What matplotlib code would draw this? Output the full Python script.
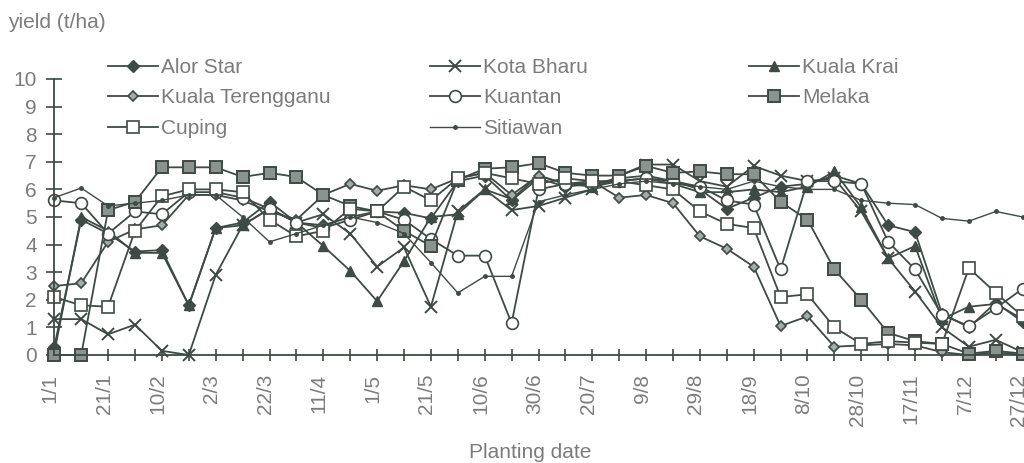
import matplotlib
matplotlib.use("Agg")
import matplotlib.pyplot as plt
import matplotlib.transforms as mtransforms

plt.rcParams["font.family"] = ["Liberation Sans", "DejaVu Sans"]

# planting dates, every 10 days
dates = ["1/1", "11/1", "21/1", "31/1", "10/2", "20/2", "2/3", "12/3", "22/3", "1/4",
         "11/4", "21/4", "1/5", "11/5", "21/5", "31/5", "10/6", "20/6", "30/6", "10/7",
         "20/7", "30/7", "9/8", "19/8", "29/8", "8/9", "18/9", "28/9", "8/10", "18/10",
         "28/10", "7/11", "17/11", "27/11", "7/12", "17/12", "27/12"]

alor_star = [0.3, 4.9, 4.4, 3.75, 3.8, 1.8, 4.6, 4.8, 5.55, 4.8, 4.7, 5.0, 5.2, 5.15, 4.95,
             6.3, 6.5, 5.6, 6.4, 6.1, 6.2, 6.4, 6.5, 6.3, 6.0, 5.3, 5.7, 6.1, 6.2, 6.5,
             6.2, 4.7, 4.45, 1.5, 1.0, 1.9, 1.2]
kota_bharu = [1.3, 1.3, 0.75, 1.1, 0.15, 0.0, 2.9, 4.7, 5.3, 4.8, 5.1, 4.4, 3.2, 3.9, 1.75,
              5.2, 6.0, 5.25, 5.4, 5.7, 6.0, 6.5, 6.9, 6.9, 6.3, 6.1, 6.85, 6.5, 6.3, 6.4,
              5.2, 3.5, 2.3, 1.0, 0.3, 0.55, 0.1]
kuala_krai = [0.1, 5.0, 4.5, 3.7, 3.7, 1.8, 4.6, 4.7, 5.3, 4.8, 3.95, 3.05, 1.95, 3.4, 5.0,
              5.1, 6.0, 5.65, 6.5, 6.2, 6.1, 6.3, 6.4, 6.2, 5.9, 5.9, 6.0, 5.9, 6.1, 6.65,
              5.35, 3.5, 3.95, 1.3, 1.75, 1.85, 1.3]
kuala_terengganu = [2.5, 2.6, 4.1, 4.55, 4.7, 5.8, 5.8, 5.6, 5.2, 4.9, 5.8, 6.2, 5.95, 6.15, 6.0,
                    6.4, 6.6, 5.8, 6.5, 6.2, 6.3, 5.7, 5.8, 5.5, 4.3, 3.85, 3.2, 1.05, 1.4, 0.3,
                    0.35, 0.4, 0.35, 0.1, 0.0, 0.1, 0.0]
kuantan = [5.6, 5.5, 4.4, 5.2, 5.1, 5.9, 5.9, 5.7, 5.3, 4.8, 4.6, 4.9, 5.2, 4.9, 4.2,
           3.6, 3.6, 1.15, 6.0, 6.2, 6.2, 6.3, 6.4, 6.3, 6.1, 5.6, 5.45, 3.1, 6.3, 6.3,
           6.2, 4.1, 3.1, 1.45, 1.05, 1.7, 2.4]
melaka = [0.0, 0.0, 5.25, 5.55, 6.8, 6.8, 6.8, 6.45, 6.6, 6.45, 5.8, 5.4, 5.2, 4.5, 3.95,
          6.35, 6.75, 6.8, 6.95, 6.6, 6.5, 6.5, 6.85, 6.6, 6.65, 6.55, 6.55, 5.55, 4.9, 3.1,
          2.0, 0.8, 0.5, 0.4, 0.05, 0.15, 0.05]
cuping = [2.1, 1.8, 1.75, 4.5, 5.75, 6.0, 6.0, 5.9, 4.9, 4.3, 4.5, 5.3, 5.2, 6.1, 5.6,
          6.4, 6.6, 6.4, 6.2, 6.4, 6.3, 6.3, 6.15, 6.0, 5.2, 4.75, 4.6, 2.1, 2.2, 1.0,
          0.4, 0.5, 0.45, 0.4, 3.15, 2.25, 1.4]
sitiawan = [5.7, 6.05, 5.4, 5.5, 5.6, 5.8, 5.8, 5.0, 4.1, 4.4, 4.7, 5.0, 4.8, 4.4, 3.35,
            2.25, 2.85, 2.85, 5.55, 5.8, 6.0, 6.2, 6.3, 6.2, 6.1, 6.0, 6.3, 6.1, 6.0, 6.0,
            5.6, 5.5, 5.45, 4.95, 4.85, 5.2, 5.0]

INK = "#3e4a44"
TXT = "#7c7c7c"
FS = 15

fig = plt.figure(figsize=(10.24, 4.63), dpi=100)
ax = fig.add_axes([54.3 / 1024, 108 / 463, 1 - 54.3 / 1024, 276 / 463])

x = list(range(len(dates)))
styles = {
    "Alor Star": dict(marker="D", ms=6, mfc=INK, mec=INK),
    "Kota Bharu": dict(marker="x", ms=9, mew=1.4, mec=INK),
    "Kuala Krai": dict(marker="^", ms=7.5, mfc=INK, mec=INK),
    "Kuala Terengganu": dict(marker="D", ms=5.5, mfc="#a4aca8", mec=INK, mew=1.2),
    "Kuantan": dict(marker="o", ms=8.5, mfc="white", mec=INK, mew=1.2),
    "Melaka": dict(marker="s", ms=8.5, mfc="#8a938e", mec=INK, mew=1.4),
    "Cuping": dict(marker="s", ms=8.5, mfc="white", mec=INK, mew=1.2),
    "Sitiawan": dict(marker="o", ms=2.5, mfc=INK, mec=INK),
}
series = {
    "Alor Star": alor_star,
    "Kota Bharu": kota_bharu,
    "Kuala Krai": kuala_krai,
    "Kuala Terengganu": kuala_terengganu,
    "Kuantan": kuantan,
    "Melaka": melaka,
    "Cuping": cuping,
    "Sitiawan": sitiawan,
}
handles = {}
for name, vals in series.items():
    lw = 1.0 if name == "Sitiawan" else 1.3
    (h,) = ax.plot(x, vals, color=INK, lw=lw, clip_on=False, label=name, **styles[name])
    handles[name] = h

ax.set_xlim(0, (1024 - 54.3) / 26.9)
ax.set_ylim(0, 10)
ax.set_xticks(x)
ax.set_xticklabels([d if i % 2 == 0 else "" for i, d in enumerate(dates)],
                   rotation=90, ha="center", va="top")
ax.set_yticks(range(11))
ax.tick_params(axis="x", direction="inout", length=9, width=1.2, color=INK,
               labelsize=FS, labelcolor=TXT, pad=9)
ax.tick_params(axis="y", direction="inout", length=12, width=1.2, color=INK,
               labelsize=FS, labelcolor=TXT, pad=6.5)
shift = mtransforms.ScaledTranslation(-4 / 100, 0, fig.dpi_scale_trans)
for lbl in ax.get_xticklabels():
    lbl.set_transform(lbl.get_transform() + shift)

for side in ("top", "right"):
    ax.spines[side].set_visible(False)
for side in ("left", "bottom"):
    ax.spines[side].set_color(INK)
    ax.spines[side].set_linewidth(1.3)

fig.text(8 / 1024, 1 - 22 / 463, "yield (t/ha)", fontsize=FS, color=TXT, va="center", ha="left")
fig.text(530 / 1024, 1 - 453 / 463, "Planting date", fontsize=FS, color=TXT, va="center", ha="center")

columns = [
    (108, ["Alor Star", "Kuala Terengganu", "Cuping"]),
    (430, ["Kota Bharu", "Kuantan", "Sitiawan"]),
    (749, ["Kuala Krai", "Melaka"]),
]
for left, names in columns:
    fig.legend([handles[n] for n in names], names, loc="upper left",
               bbox_to_anchor=(left / 1024, 1 - 58 / 463), bbox_transform=fig.transFigure,
               frameon=False, fontsize=FS, borderpad=0, borderaxespad=0,
               handlelength=2.4, handletextpad=0.15, labelspacing=0.55,
               labelcolor=TXT)

fig.savefig("out.png", dpi=100, facecolor="white")
